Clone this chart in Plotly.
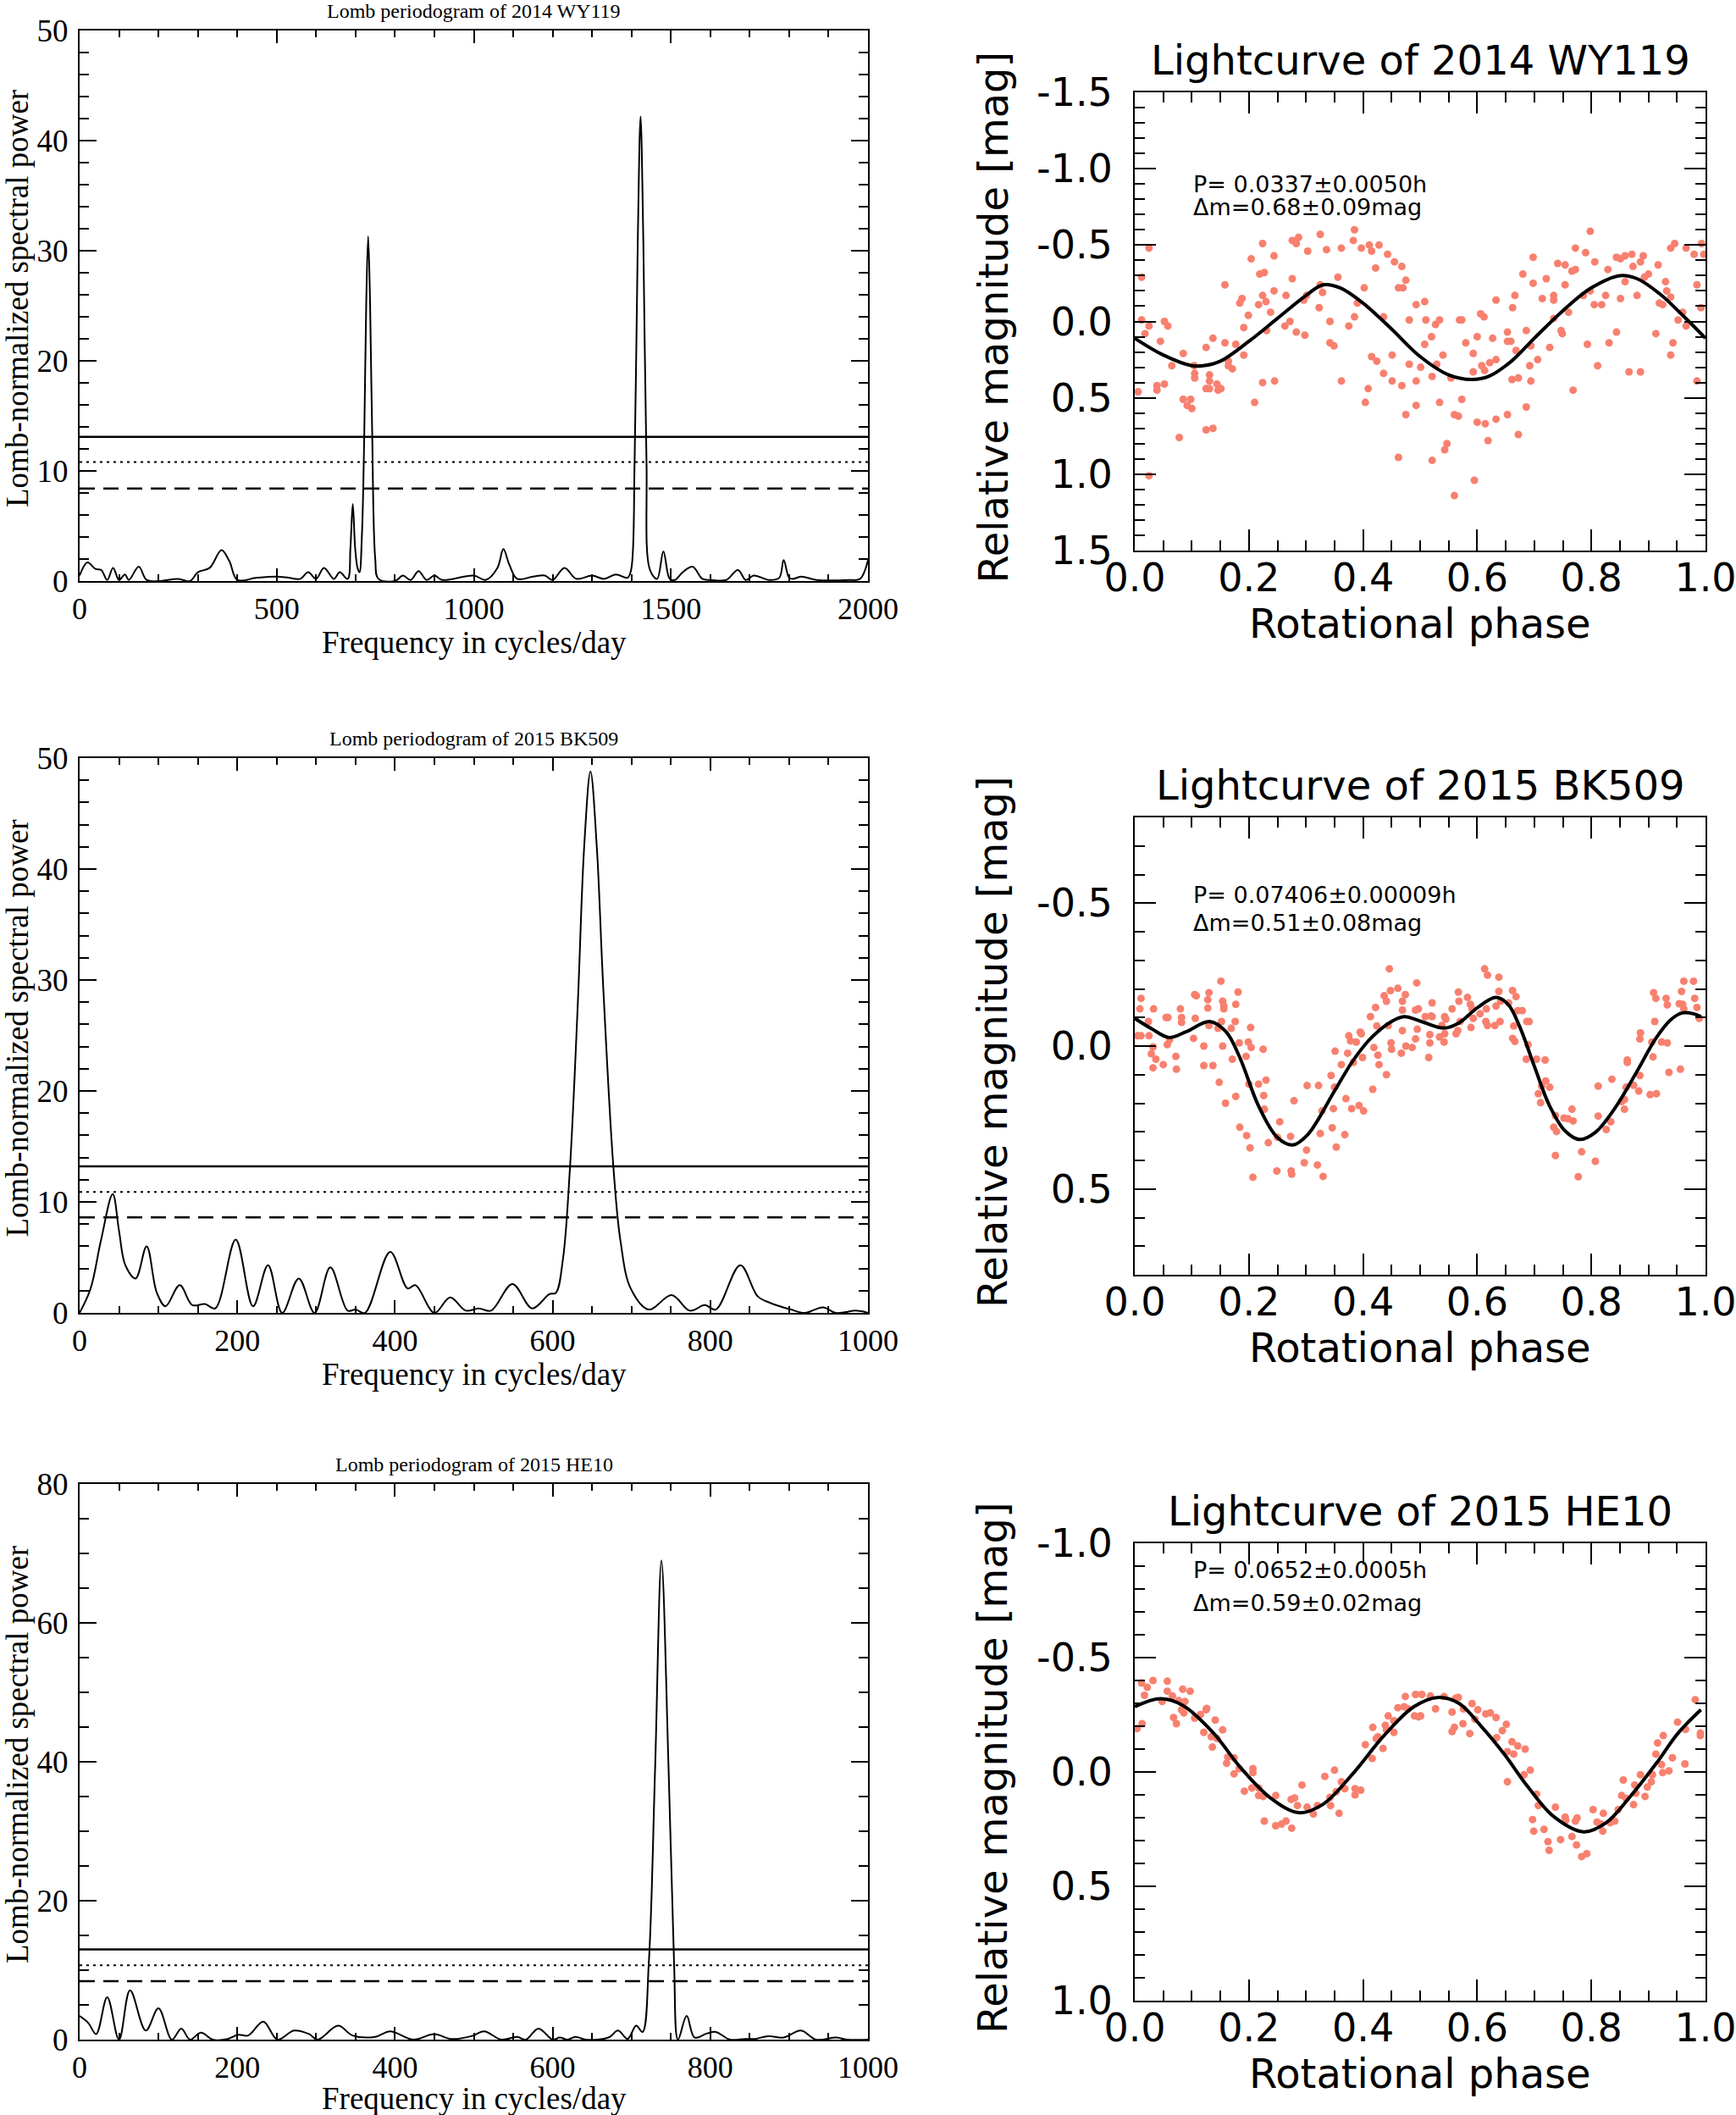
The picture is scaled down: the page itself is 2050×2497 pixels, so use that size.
import plotly.graph_objects as go
from plotly.subplots import make_subplots

# ---- data ----
objects = ["2014 WY119", "2015 BK509", "2015 HE10"]
period_text = ["P= 0.0337±0.0050h", "P= 0.07406±0.00009h", "P= 0.0652±0.0005h"]
amp_text = ["Δm=0.68±0.09mag", "Δm=0.51±0.08mag", "Δm=0.59±0.02mag"]

# Lomb periodograms: (frequency in cycles/day, normalized power)
lomb_wy119 = [
    (0, 0.5), (20, 1.7), (40, 1.1), (55, 1.0), (70, 0.1), (85, 1.2), (100, 0.1), (115, 0.6),
    (125, 0.1), (150, 1.3), (170, 0.1), (200, 0.0), (250, 0.2), (280, 0.0), (300, 0.8),
    (330, 1.2), (360, 2.8), (380, 1.8), (400, 0.1), (450, 0.3), (500, 0.4), (530, 0.3),
    (560, 0.2), (580, 0.8), (600, 0.2), (620, 1.2), (645, 0.2), (660, 0.8), (680, 0.2),
    (687, 3.0), (693, 7.0), (699, 3.0), (705, 1.2), (710, 0.8), (716, 4.0), (722, 13.0),
    (727, 25.0), (732, 31.3), (737, 25.0), (742, 14.0), (750, 2.0), (758, 0.2), (800, 0.0),
    (820, 0.5), (840, 0.1), (860, 0.9), (880, 0.1), (900, 0.5), (920, 0.1), (1000, 0.5),
    (1030, 0.1), (1060, 1.2), (1075, 2.9), (1090, 1.5), (1110, 0.2), (1150, 0.4), (1180, 0.5),
    (1200, 0.1), (1230, 1.2), (1260, 0.2), (1300, 0.5), (1330, 0.2), (1360, 0.6), (1390, 0.3),
    (1399, 1.0), (1408, 11.0), (1416, 31.0), (1423, 42.2), (1430, 31.0), (1438, 11.0),
    (1447, 1.0), (1465, 0.2), (1481, 2.7), (1497, 0.2), (1510, 0.1), (1530, 0.8), (1555, 1.3),
    (1580, 0.2), (1600, 0.1), (1640, 0.1), (1670, 1.0), (1690, 0.1), (1710, 0.5), (1750, 0.1),
    (1775, 0.3), (1786, 1.9), (1800, 0.3), (1810, 0.2), (1830, 0.4), (1870, 0.1), (1950, 0.1),
    (1980, 0.2), (2000, 1.9),
]
lomb_bk509 = [
    (0, 0.0), (14, 2.2), (27, 6.5), (42, 10.7), (50, 7.4), (58, 4.3), (71, 3.1), (85, 6.0),
    (98, 1.8), (109, 0.6), (127, 2.5), (143, 0.7), (159, 0.8), (172, 0.4), (198, 6.6),
    (220, 0.6), (239, 4.3), (257, 0.0), (278, 3.1), (298, 0.0), (318, 4.1), (340, 0.2),
    (350, 0.3), (362, 0.0), (394, 5.5), (416, 2.2), (426, 2.5), (450, 0.0), (470, 1.4),
    (490, 0.2), (506, 0.4), (522, 0.2), (549, 2.6), (574, 0.4), (596, 1.7), (604, 1.8),
    (613, 4.8), (622, 13.1), (632, 28.0), (640, 42.0), (648, 48.8), (656, 42.0), (664, 29.6),
    (677, 13.2), (686, 6.5), (699, 2.2), (722, 0.3), (751, 1.6), (774, 0.2), (793, 0.7),
    (807, 0.3), (838, 4.3), (860, 1.5), (876, 0.9), (902, 0.3), (920, 0.0), (943, 0.5),
    (959, 0.0), (986, 0.2), (1000, 0.0),
]
lomb_he10 = [
    (0, 3.4), (11, 2.4), (21, 0.8), (35, 6.1), (50, 0.0), (64, 7.1), (84, 1.3), (100, 4.5),
    (117, 0.0), (129, 1.6), (140, 0.0), (154, 1.0), (169, 0.0), (188, 0.1), (201, 0.7),
    (214, 0.6), (233, 2.6), (251, 0.0), (272, 1.3), (291, 0.8), (302, 0.0), (328, 2.0),
    (346, 0.6), (375, 0.4), (394, 1.2), (423, 0.0), (450, 0.8), (471, 0.1), (497, 0.5),
    (513, 1.2), (535, 0.0), (555, 0.4), (566, 0.0), (582, 1.6), (600, 0.0), (609, 0.3),
    (619, 0.0), (629, 0.4), (642, 0.0), (671, 0.3), (683, 1.3), (695, 0.1), (706, 2.0),
    (714, 1.1), (722, 11.1), (730, 39.2), (738, 69.0), (747, 39.2), (754, 11.1), (759, 0.0),
    (770, 3.4), (780, 0.3), (796, 0.9), (807, 1.1), (825, 0.0), (844, 0.1), (857, 0.1),
    (873, 0.5), (893, 0.3), (915, 1.3), (934, 0.0), (960, 0.3), (973, 0.0), (1000, 0.0),
]

# significance levels on each periodogram: solid, dotted, dashed
levels_wy119 = [13.1, 10.8, 8.4]
levels_bk509 = [13.2, 10.9, 8.6]
levels_he10 = [13.0, 10.7, 8.4]

# lightcurve points: (rotational phase, relative magnitude)
lc_wy119 = [
    (0.006, 0.46), (0.012, -0.29), (0.012, -0.01), (0.018, 0.08), (0.025, -0.48), (0.025, 0.03),
    (0.025, 1.01), (0.039, 0.42), (0.039, 0.45), (0.045, 0.13), (0.052, 0.0), (0.052, 0.41),
    (0.058, 0.03), (0.065, 0.29), (0.078, 0.76), (0.085, 0.21), (0.085, 0.51), (0.092, 0.55),
    (0.098, 0.51), (0.1, 0.57), (0.104, 0.29), (0.105, 0.34), (0.105, 0.37), (0.125, 0.17),
    (0.125, 0.44), (0.125, 0.71), (0.131, 0.35), (0.131, 0.39), (0.131, 0.44), (0.137, 0.11),
    (0.137, 0.70), (0.144, 0.41), (0.146, 0.45), (0.151, 0.44), (0.158, 0.14), (0.158, -0.24),
    (0.164, 0.26), (0.164, 0.29), (0.171, 0.31), (0.177, 0.15), (0.184, -0.12), (0.188, -0.15),
    (0.191, 0.04), (0.191, 0.22), (0.199, -0.04), (0.204, -0.41), (0.21, 0.53), (0.217, -0.11),
    (0.219, -0.31), (0.224, -0.51), (0.224, -0.17), (0.227, -0.32), (0.224, 0.40), (0.23, -0.13),
    (0.231, 0.06), (0.238, -0.06), (0.245, 0.39), (0.244, -0.43), (0.244, -0.2), (0.263, 0.03),
    (0.265, -0.17), (0.272, 0.0), (0.276, -0.28), (0.276, -0.53), (0.283, -0.51), (0.287, -0.55),
    (0.283, 0.07), (0.296, -0.14), (0.298, 0.09), (0.301, -0.17), (0.303, -0.46), (0.323, -0.09),
    (0.325, -0.57), (0.325, -0.24), (0.329, -0.19), (0.336, -0.47), (0.342, 0.0), (0.342, 0.14),
    (0.349, 0.16), (0.356, -0.29), (0.362, -0.48), (0.362, 0.39), (0.375, 0.03), (0.383, -0.53),
    (0.385, -0.6), (0.385, -0.03), (0.39, -0.12), (0.397, -0.48), (0.402, -0.22), (0.404, 0.53),
    (0.411, -0.5), (0.409, 0.44), (0.415, -0.46), (0.415, 0.23), (0.422, -0.35), (0.424, 0.26),
    (0.428, -0.5), (0.436, -0.03), (0.436, 0.34), (0.443, -0.44), (0.451, 0.39), (0.451, 0.22),
    (0.455, -0.39), (0.462, -0.22), (0.462, 0.89), (0.468, -0.36), (0.468, 0.42), (0.47, -0.22),
    (0.475, -0.27), (0.475, 0.61), (0.481, -0.01), (0.481, 0.28), (0.493, -0.11), (0.493, 0.39),
    (0.493, 0.55), (0.501, 0.30), (0.508, -0.13), (0.508, 0.15), (0.51, -0.01), (0.52, 0.10),
    (0.521, 0.36), (0.521, 0.91), (0.527, 0.02), (0.529, 0.28), (0.534, -0.01), (0.534, 0.53),
    (0.54, 0.22), (0.543, 0.84), (0.547, 0.80), (0.554, 0.37), (0.56, 0.61), (0.56, 1.14),
    (0.569, -0.01), (0.573, -0.01), (0.573, 0.51), (0.567, 0.62), (0.58, 0.14), (0.593, 0.21),
    (0.593, 0.33), (0.595, 1.04), (0.6, 0.10), (0.6, 0.66), (0.606, -0.05), (0.608, 0.29),
    (0.612, -0.03), (0.613, 0.32), (0.614, 0.67), (0.619, 0.78), (0.622, 0.27), (0.627, 0.11),
    (0.633, -0.14), (0.633, 0.25), (0.633, 0.64), (0.653, 0.07), (0.653, 0.13), (0.653, 0.61),
    (0.659, 0.13), (0.662, -0.09), (0.661, 0.38), (0.666, -0.17), (0.668, 0.19), (0.672, 0.37),
    (0.672, 0.74), (0.68, -0.31), (0.686, 0.06), (0.686, 0.56), (0.692, 0.29), (0.694, 0.39),
    (0.694, 0.16), (0.698, -0.42), (0.698, -0.25), (0.706, 0.25), (0.714, -0.15), (0.721, -0.28),
    (0.727, 0.17), (0.734, -0.17), (0.734, -0.14), (0.734, -0.02), (0.741, -0.38), (0.747, 0.06),
    (0.749, 0.08), (0.754, -0.37), (0.754, -0.24), (0.76, -0.06), (0.766, -0.33), (0.768, 0.45),
    (0.772, -0.48), (0.772, -0.34), (0.786, -0.17), (0.79, -0.45), (0.793, 0.15), (0.798, -0.59),
    (0.798, -0.2), (0.805, -0.11), (0.806, -0.39), (0.811, 0.29), (0.818, -0.11), (0.825, -0.17),
    (0.829, -0.34), (0.831, 0.14), (0.844, -0.42), (0.844, 0.07), (0.851, -0.15), (0.851, -0.41),
    (0.859, -0.43), (0.859, -0.26), (0.866, 0.33), (0.871, -0.44), (0.873, -0.36), (0.88, -0.17),
    (0.886, -0.39), (0.886, 0.33), (0.891, -0.43), (0.893, -0.29), (0.9, -0.31), (0.913, 0.08),
    (0.917, -0.37), (0.919, -0.12), (0.925, -0.11), (0.93, -0.26), (0.932, -0.2), (0.939, -0.16),
    (0.939, 0.22), (0.943, 0.14), (0.939, -0.48), (0.946, -0.51), (0.952, -0.01), (0.96, -0.06),
    (0.966, -0.48), (0.966, 0.03), (0.98, -0.44), (0.985, -0.24), (0.985, 0.39), (0.992, -0.09),
    (0.993, -0.51), (0.997, -0.44),
]
fit_wy119 = [
    (0.0, 0.11), (0.05, 0.22), (0.10, 0.29), (0.12, 0.29), (0.15, 0.26), (0.20, 0.13),
    (0.25, -0.02), (0.30, -0.17), (0.33, -0.24), (0.36, -0.22), (0.40, -0.12), (0.45, 0.05),
    (0.50, 0.23), (0.55, 0.35), (0.59, 0.38), (0.62, 0.36), (0.66, 0.26), (0.70, 0.11),
    (0.75, -0.07), (0.80, -0.22), (0.85, -0.30), (0.88, -0.28), (0.92, -0.18), (0.96, -0.04),
    (1.0, 0.11),
]

lc_bk509 = [
    (0.011, -0.167), (0.009, -0.13), (0.011, -0.036), (0.005, -0.036), (0.024, -0.086),
    (0.025, -0.036), (0.032, 0.003), (0.032, 0.076), (0.029, 0.027), (0.033, -0.13),
    (0.037, 0.046), (0.05, 0.065), (0.055, -0.10), (0.058, -0.10), (0.057, -0.005),
    (0.061, -0.022), (0.072, 0.036), (0.073, 0.081), (0.08, -0.13), (0.082, -0.10),
    (0.082, -0.083), (0.103, -0.027), (0.105, -0.18), (0.108, -0.176), (0.106, -0.097),
    (0.121, 0.0), (0.121, 0.068), (0.128, -0.162), (0.128, -0.133), (0.13, -0.187),
    (0.13, -0.072), (0.137, 0.068), (0.146, -0.062), (0.148, 0.127), (0.151, -0.227),
    (0.152, -0.086), (0.154, -0.157), (0.156, -0.14), (0.156, -0.13), (0.154, 0.0),
    (0.159, 0.2), (0.169, -0.062), (0.171, 0.046), (0.176, -0.086), (0.177, -0.146),
    (0.177, 0.176), (0.181, -0.189), (0.183, -0.011), (0.184, 0.284), (0.195, 0.036),
    (0.196, 0.313), (0.199, -0.014), (0.2, 0.133), (0.202, 0.356), (0.203, -0.065),
    (0.204, 0.005), (0.207, 0.459), (0.217, 0.133), (0.225, 0.011), (0.226, 0.173),
    (0.227, 0.221), (0.23, 0.119), (0.234, 0.338), (0.249, 0.437), (0.25, 0.319),
    (0.254, 0.265), (0.273, 0.316), (0.274, 0.437), (0.275, 0.448), (0.279, 0.191),
    (0.297, 0.408), (0.301, 0.364), (0.302, 0.138), (0.32, 0.416), (0.322, 0.138),
    (0.325, 0.306), (0.328, 0.227), (0.33, 0.456), (0.344, 0.103), (0.346, 0.286),
    (0.348, 0.219), (0.35, 0.144), (0.351, 0.018), (0.353, 0.353), (0.362, 0.065),
    (0.368, 0.31), (0.37, 0.184), (0.373, 0.025), (0.375, -0.036), (0.378, -0.018),
    (0.38, 0.219), (0.383, 0.057), (0.388, -0.014), (0.393, 0.208), (0.395, -0.049),
    (0.397, -0.043), (0.399, 0.04), (0.401, 0.227), (0.413, -0.103), (0.417, 0.151),
    (0.419, 0.005), (0.422, -0.135), (0.424, -0.07), (0.426, 0.032), (0.428, 0.065),
    (0.437, -0.176), (0.441, -0.157), (0.441, 0.1), (0.444, -0.072), (0.446, -0.27),
    (0.448, -0.194), (0.449, -0.011), (0.45, 0.011), (0.461, -0.202), (0.467, 0.025),
    (0.469, -0.157), (0.469, -0.126), (0.469, -0.054), (0.474, -0.18), (0.475, 0.0),
    (0.486, 0.005), (0.492, -0.025), (0.494, -0.221), (0.492, -0.126), (0.495, -0.059),
    (0.497, -0.13), (0.509, -0.103), (0.515, 0.04), (0.517, -0.04), (0.517, -0.011),
    (0.519, -0.105), (0.521, -0.151), (0.521, -0.103), (0.534, -0.032), (0.538, -0.072),
    (0.542, -0.014), (0.543, -0.043), (0.543, -0.103), (0.545, -0.094), (0.556, -0.13),
    (0.563, -0.043), (0.566, -0.054), (0.567, -0.189), (0.568, -0.157), (0.57, -0.086),
    (0.583, -0.17), (0.588, -0.146), (0.589, -0.065), (0.591, -0.13), (0.593, -0.097),
    (0.605, -0.113), (0.613, -0.27), (0.615, -0.086), (0.616, -0.13), (0.618, -0.248),
    (0.618, -0.072), (0.631, -0.072), (0.633, -0.14), (0.638, -0.241), (0.638, -0.191),
    (0.64, -0.086), (0.641, -0.157), (0.655, -0.151), (0.662, -0.194), (0.664, -0.07),
    (0.668, -0.173), (0.662, -0.027), (0.671, -0.124), (0.679, -0.124), (0.687, -0.086),
    (0.691, -0.086), (0.666, -0.016), (0.686, 0.046), (0.689, -0.005), (0.704, 0.046),
    (0.707, 0.167), (0.711, 0.198), (0.713, 0.14), (0.719, 0.049), (0.72, 0.122),
    (0.727, 0.144), (0.734, 0.284), (0.737, 0.243), (0.737, 0.383), (0.739, 0.299),
    (0.752, 0.252), (0.759, 0.254), (0.766, 0.221), (0.768, 0.262), (0.777, 0.457),
    (0.783, 0.37), (0.807, 0.403), (0.812, 0.245), (0.812, 0.14), (0.826, 0.292),
    (0.834, 0.265), (0.836, 0.116), (0.853, 0.194), (0.858, 0.221), (0.858, 0.187),
    (0.861, 0.144), (0.863, 0.049), (0.863, 0.057), (0.874, 0.137), (0.883, 0.157),
    (0.885, 0.103), (0.885, -0.025), (0.886, -0.046), (0.903, 0.17), (0.906, -0.014),
    (0.908, 0.038), (0.909, -0.187), (0.913, -0.167), (0.911, -0.086), (0.914, 0.167),
    (0.923, -0.014), (0.931, -0.167), (0.933, -0.011), (0.933, -0.144), (0.936, 0.092),
    (0.956, 0.081), (0.954, -0.148), (0.958, -0.191), (0.96, -0.146), (0.962, -0.227),
    (0.979, -0.227), (0.981, -0.167), (0.985, -0.135), (0.989, -0.097), (0.962, -0.13),
]
fit_bk509 = [
    (0.0, -0.097), (0.03, -0.06), (0.06, -0.03), (0.09, -0.05), (0.131, -0.086), (0.16, -0.05),
    (0.184, 0.04), (0.217, 0.21), (0.25, 0.32), (0.277, 0.346), (0.303, 0.31), (0.35, 0.157),
    (0.383, 0.049), (0.416, -0.032), (0.45, -0.086), (0.472, -0.103), (0.502, -0.086),
    (0.542, -0.063), (0.568, -0.081), (0.601, -0.135), (0.633, -0.17), (0.654, -0.146),
    (0.674, -0.07), (0.70, 0.07), (0.727, 0.21), (0.754, 0.297), (0.78, 0.327), (0.807, 0.302),
    (0.84, 0.221), (0.879, 0.092), (0.913, -0.027), (0.939, -0.092), (0.959, -0.116),
    (0.979, -0.113), (0.992, -0.103),
]

lc_he10 = [
    (0.004, -0.19), (0.013, -0.211), (0.012, -0.389), (0.017, -0.335), (0.022, -0.37),
    (0.032, -0.4), (0.048, -0.308), (0.057, -0.397), (0.057, -0.353), (0.066, -0.332),
    (0.068, -0.238), (0.073, -0.211), (0.077, -0.312), (0.082, -0.272), (0.084, -0.362),
    (0.086, -0.258), (0.088, -0.308), (0.097, -0.353), (0.105, -0.235), (0.115, -0.251),
    (0.121, -0.173), (0.125, -0.272), (0.126, -0.278), (0.134, -0.154), (0.136, -0.109),
    (0.141, -0.227), (0.144, -0.146), (0.154, -0.184), (0.161, -0.038), (0.163, -0.065),
    (0.174, -0.062), (0.174, 0.008), (0.183, -0.015), (0.192, 0.084), (0.205, 0.07),
    (0.207, -0.015), (0.207, 0.003), (0.217, 0.103), (0.217, 0.07), (0.225, 0.107),
    (0.227, 0.215), (0.247, 0.103), (0.247, 0.235), (0.257, 0.228), (0.265, 0.215),
    (0.275, 0.246), (0.274, 0.12), (0.28, 0.114), (0.285, 0.147), (0.293, 0.057),
    (0.302, 0.154), (0.313, 0.184), (0.32, 0.147), (0.333, 0.019), (0.343, 0.147),
    (0.342, 0.111), (0.35, -0.008), (0.353, 0.086), (0.358, 0.181), (0.362, 0.043),
    (0.368, 0.073), (0.386, 0.073), (0.386, 0.1), (0.396, 0.08), (0.404, -0.119),
    (0.416, -0.059), (0.417, -0.195), (0.423, -0.146), (0.426, -0.154), (0.435, -0.103),
    (0.439, -0.204), (0.441, -0.184), (0.444, -0.245), (0.454, -0.173), (0.454, -0.224),
    (0.461, -0.281), (0.472, -0.285), (0.474, -0.33), (0.479, -0.276), (0.49, -0.245),
    (0.492, -0.339), (0.497, -0.241), (0.501, -0.245), (0.503, -0.339), (0.518, -0.332),
    (0.527, -0.276), (0.542, -0.33), (0.556, -0.262), (0.556, -0.177), (0.56, -0.195),
    (0.562, -0.322), (0.567, -0.326), (0.575, -0.211), (0.576, -0.276), (0.587, -0.168),
    (0.591, -0.299), (0.596, -0.231), (0.601, -0.272), (0.615, -0.254), (0.623, -0.258),
    (0.633, -0.238), (0.634, -0.15), (0.644, -0.181), (0.651, -0.208), (0.653, -0.089),
    (0.653, 0.043), (0.661, -0.132), (0.664, -0.078), (0.671, -0.114), (0.682, 0.012),
    (0.684, -0.1), (0.693, -0.008), (0.697, 0.208), (0.699, 0.259), (0.704, 0.097),
    (0.707, 0.147), (0.717, 0.251), (0.724, 0.305), (0.726, 0.343), (0.737, 0.154),
    (0.746, 0.296), (0.754, 0.197), (0.755, 0.211), (0.766, 0.282), (0.772, 0.215),
    (0.774, 0.319), (0.775, 0.201), (0.783, 0.37), (0.792, 0.357), (0.803, 0.165),
    (0.81, 0.219), (0.817, 0.228), (0.82, 0.259), (0.821, 0.181), (0.833, 0.222),
    (0.841, 0.215), (0.847, 0.165), (0.853, 0.103), (0.856, 0.035), (0.861, 0.116),
    (0.874, 0.143), (0.876, 0.057), (0.878, 0.093), (0.886, 0.012), (0.894, 0.107),
    (0.898, 0.066), (0.905, 0.043), (0.907, 0.012), (0.913, -0.078), (0.916, -0.127),
    (0.923, -0.032), (0.925, 0.003), (0.926, -0.159), (0.936, -0.005), (0.942, -0.062),
    (0.951, -0.218), (0.964, -0.035), (0.965, -0.186), (0.982, -0.316), (0.991, -0.159),
    (0.991, -0.17),
]
fit_he10 = [
    (0.0, -0.285), (0.045, -0.32), (0.085, -0.29), (0.138, -0.17), (0.185, -0.02),
    (0.238, 0.114), (0.287, 0.178), (0.33, 0.141), (0.383, 0.005), (0.436, -0.157),
    (0.489, -0.285), (0.532, -0.326), (0.568, -0.30), (0.608, -0.197), (0.648, -0.076),
    (0.687, 0.059), (0.734, 0.195), (0.787, 0.262), (0.826, 0.222), (0.866, 0.114),
    (0.913, -0.035), (0.952, -0.17), (0.992, -0.272),
]

# axis ticks and limits
freq_max = [2000, 1000, 1000]
freq_ticks = [[0, 500, 1000, 1500, 2000], [0, 200, 400, 600, 800, 1000], [0, 200, 400, 600, 800, 1000]]
freq_minor = [100, 50, 50]
power_max = [50, 50, 80]
power_ticks = [[0, 10, 20, 30, 40, 50], [0, 10, 20, 30, 40, 50], [0, 20, 40, 60, 80]]
power_minor = [2, 2, 5]
mag_lim = [1.5, 0.8, 1.0]
mag_ticks = [[-1.5, -1.0, -0.5, 0.0, 0.5, 1.0, 1.5], [-0.5, 0.0, 0.5], [-1.0, -0.5, 0.0, 0.5, 1.0]]
phase_ticks = [0.0, 0.2, 0.4, 0.6, 0.8, 1.0]
# magnitude at which the "P=" and "Δm=" lines sit
period_mag = [-0.90, -0.53, -0.884]
amp_mag = [-0.75, -0.43, -0.738]

lombs = [lomb_wy119, lomb_bk509, lomb_he10]
levels = [levels_wy119, levels_bk509, levels_he10]
curves = [lc_wy119, lc_bk509, lc_he10]
fits = [fit_wy119, fit_bk509, fit_he10]

# ---- layout (positions in page pixels) ----
W, H = 2050, 2497
left_x = (94, 1025)
right_x = (1340, 2014)
left_y = [(36, 686), (895, 1550), (1752, 2408)]
right_y = [(109, 650), (965, 1505), (1822, 2362)]
freq_title_gap = [72, 72, 69]

SERIF = "Liberation Serif"
SANS = "DejaVu Sans"


def fx(v):
    return v / W


def fy(v):
    return 1 - v / H


def fmt(v):
    return "%.1f" % v


def label(text, x, y, family, size, angle=0):
    return dict(text=text, x=fx(x), y=fy(y), xref="paper", yref="paper", showarrow=False,
                xanchor="center", yanchor="middle", textangle=angle,
                font=dict(family=family, size=size, color="black"))


fig = make_subplots(rows=3, cols=2)
annotations = []
axis_common = dict(showline=True, linecolor="black", linewidth=2, mirror="allticks",
                   ticks="inside", tickcolor="black", tickwidth=2, showgrid=False,
                   zeroline=False, automargin=False, ticklabeloverflow="allow")

for i in range(3):
    row = i + 1
    f, p = zip(*lombs[i])
    fig.add_trace(go.Scatter(x=f, y=p, mode="lines", line=dict(color="black", width=2),
                             line_shape="spline", hoverinfo="skip"), row=row, col=1)
    ph, mag = zip(*curves[i])
    fig.add_trace(go.Scatter(x=ph, y=mag, mode="markers",
                             marker=dict(color="#F8806F", size=9), hoverinfo="skip"), row=row, col=2)
    fph, fmag = zip(*fits[i])
    fig.add_trace(go.Scatter(x=fph, y=fmag, mode="lines", line=dict(color="black", width=4),
                             line_shape="spline", hoverinfo="skip"), row=row, col=2)

    # significance levels
    xref = "x" if i == 0 else "x%d" % (2 * i + 1)
    yref = "y" if i == 0 else "y%d" % (2 * i + 1)
    for lvl, dash, w in zip(levels[i], ["solid", "3px,5px", "18px,10px"], [2.5, 2, 2.5]):
        fig.add_shape(type="line", xref=xref + " domain", yref=yref, x0=0, x1=1, y0=lvl, y1=lvl,
                      line=dict(color="black", width=w, dash=dash))

    ly0, ly1 = left_y[i]
    ry0, ry1 = right_y[i]
    fig.update_xaxes(domain=[fx(left_x[0]), fx(left_x[1])], range=[0, freq_max[i]],
                     tickvals=freq_ticks[i], ticktext=[str(t) for t in freq_ticks[i]], ticklen=15,
                     minor=dict(dtick=freq_minor[i], ticks="inside", ticklen=8, tickcolor="black",
                                tickwidth=2),
                     tickfont=dict(family=SERIF, size=36, color="black"), ticklabelstandoff=0,
                     row=row, col=1, **axis_common)
    fig.update_yaxes(domain=[fy(ly1), fy(ly0)], range=[0, power_max[i]],
                     tickvals=power_ticks[i], ticktext=[str(t) for t in power_ticks[i]], ticklen=20,
                     minor=dict(dtick=power_minor[i], ticks="inside", ticklen=11, tickcolor="black",
                                tickwidth=2),
                     tickfont=dict(family=SERIF, size=37, color="black"), ticklabelstandoff=4,
                     row=row, col=1, **axis_common)
    fig.update_xaxes(domain=[fx(right_x[0]), fx(right_x[1])], range=[0, 1],
                     tickvals=phase_ticks, ticktext=[fmt(t) for t in phase_ticks], ticklen=25,
                     minor=dict(dtick=0.05, ticks="inside", ticklen=12, tickcolor="black",
                                tickwidth=2),
                     tickfont=dict(family=SANS, size=46, color="black"), ticklabelstandoff=-9,
                     row=row, col=2, **axis_common)
    fig.update_yaxes(domain=[fy(ry1), fy(ry0)], range=[mag_lim[i], -mag_lim[i]],
                     tickvals=mag_ticks[i], ticktext=[fmt(t) for t in mag_ticks[i]], ticklen=25,
                     minor=dict(dtick=0.1, ticks="inside", ticklen=12, tickcolor="black",
                                tickwidth=2),
                     tickfont=dict(family=SANS, size=46, color="black"), ticklabelstandoff=15,
                     row=row, col=2, **axis_common)

    lx_mid = (left_x[0] + left_x[1]) / 2
    rx_mid = (right_x[0] + right_x[1]) / 2
    annotations.append(label("Lomb periodogram of " + objects[i], lx_mid, ly0 - 23, SERIF, 24))
    annotations.append(label("Frequency in cycles/day", lx_mid, ly1 + freq_title_gap[i], SERIF, 37))
    annotations.append(label("Lomb-normalized spectral power", 20, (ly0 + ly1) / 2 - 8, SERIF, 37, -90))
    annotations.append(label("Lightcurve of " + objects[i], rx_mid, ry0 - 38, SANS, 48))
    annotations.append(label("Rotational phase", rx_mid, ry1 + 86, SANS, 48))
    annotations.append(label("Relative magnitude [mag]", 1172, (ry0 + ry1) / 2 - 5, SANS, 48, -90))
    for txt, m in ((period_text[i], period_mag[i]), (amp_text[i], amp_mag[i])):
        annotations.append(dict(text=txt, x=0.1, y=m,
                                xref="x%d domain" % (2 * i + 2), yref="y%d" % (2 * i + 2),
                                showarrow=False, xanchor="left", yanchor="middle", align="left",
                                font=dict(family=SANS, size=27, color="black")))

fig.update_layout(width=W, height=H, margin=dict(l=0, r=0, t=0, b=0), showlegend=False,
                  plot_bgcolor="white", paper_bgcolor="white", annotations=annotations)

# the figure fills the whole page, so drop the default body margin
fig.write_html("out.html", config={"displayModeBar": False},
               post_script="document.body.style.margin = '0';")
